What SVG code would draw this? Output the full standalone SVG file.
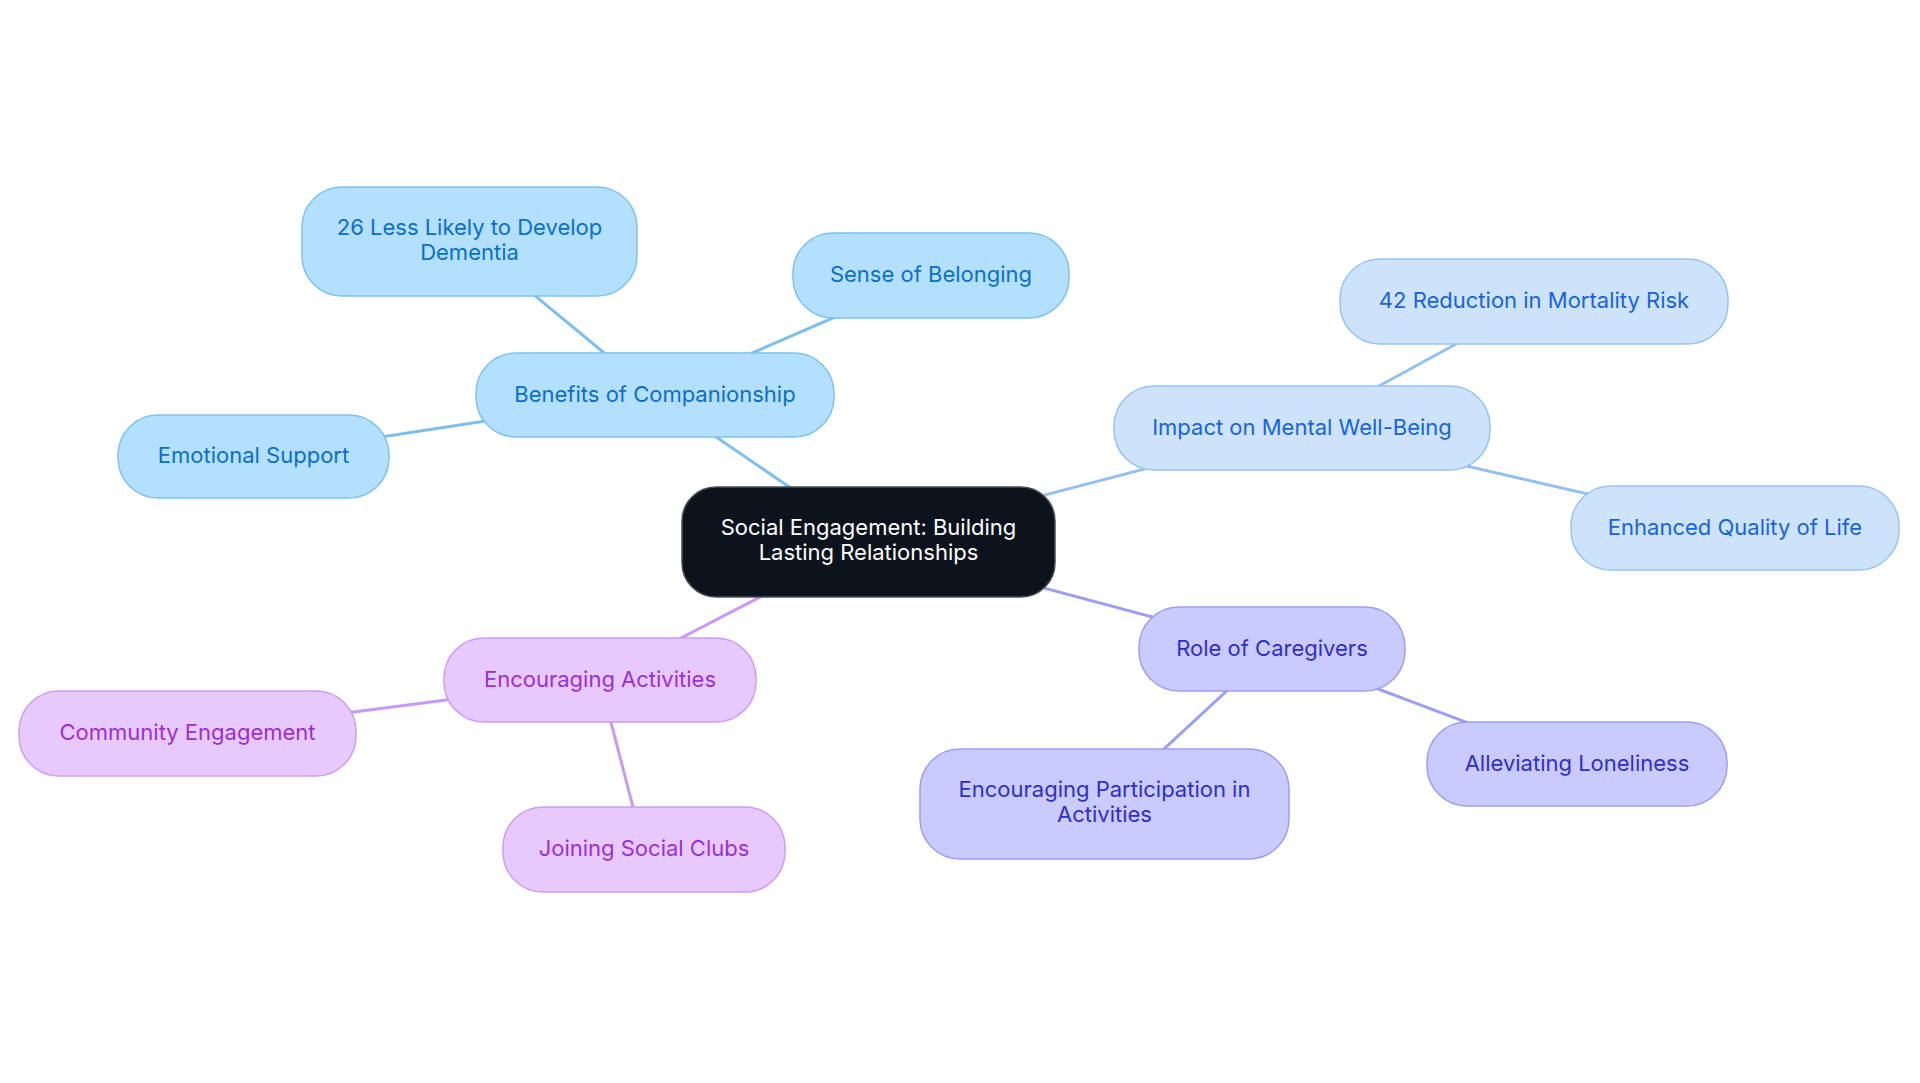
<svg xmlns="http://www.w3.org/2000/svg" width="1920" height="1083" viewBox="0 0 1920 1083">
<style>
text{font-family:Inter,"Noto Sans",sans-serif;font-size:22px;text-anchor:middle}
.edge{stroke-width:3;fill:none}
.n rect{stroke-width:1.5}
.b rect{fill:#b3e0fe;stroke:#7fc1ee}.b text{fill:#0b6fc8}.eb{stroke:#7cbfef}
.l rect{fill:#cce3fb;stroke:#98c2f2}.l text{fill:#1a63d6}.el{stroke:#93c0f3}
.v rect{fill:#c9cafd;stroke:#9d9df2}.v text{fill:#2f2fc6}.ev{stroke:#9d9df5}
.p rect{fill:#e8c9fe;stroke:#cc9cf2}.p text{fill:#9a2fd6}.ep{stroke:#c99af5}
.c rect{fill:#0d131c;stroke:#4a4f57}.c text{fill:#ffffff}
</style>
<rect width="1920" height="1083" fill="#ffffff"/>
<g id="connectors">
<line class="edge eb" x1="868" y1="541" x2="655" y2="395"/>
<line class="edge eb" x1="655" y1="395" x2="469.5" y2="241.5"/>
<line class="edge eb" x1="655" y1="395" x2="931" y2="275.5"/>
<line class="edge eb" x1="655" y1="395" x2="253.5" y2="456.5"/>
<line class="edge el" x1="868" y1="541" x2="1302" y2="428"/>
<line class="edge el" x1="1302" y1="428" x2="1534" y2="301.5"/>
<line class="edge el" x1="1302" y1="428" x2="1735" y2="528"/>
<line class="edge ev" x1="868" y1="541" x2="1272" y2="649"/>
<line class="edge ev" x1="1272" y1="649" x2="1104.5" y2="804"/>
<line class="edge ev" x1="1272" y1="649" x2="1577" y2="764"/>
<line class="edge ep" x1="868" y1="541" x2="600" y2="680"/>
<line class="edge ep" x1="600" y1="680" x2="187.5" y2="733.5"/>
<line class="edge ep" x1="600" y1="680" x2="644" y2="849.5"/>
</g>
<g id="center" class="n c"><rect x="682" y="487" width="373" height="110" rx="34"/><text x="868.5" y="535">Social Engagement: Building</text><text x="868.5" y="560">Lasting Relationships</text></g>
<g id="benefits" class="n b"><rect x="476" y="353" width="358" height="84" rx="40"/><text x="655" y="402">Benefits of Companionship</text></g>
<g id="dementia" class="n b"><rect x="302" y="187" width="335" height="109" rx="40"/><text x="469.5" y="235">26 Less Likely to Develop</text><text x="469.5" y="260">Dementia</text></g>
<g id="belonging" class="n b"><rect x="793" y="233" width="276" height="85" rx="40"/><text x="931" y="282">Sense of Belonging</text></g>
<g id="emotional" class="n b"><rect x="118" y="415" width="271" height="83" rx="40"/><text x="253.5" y="463">Emotional Support</text></g>
<g id="impact" class="n l"><rect x="1114" y="386" width="376" height="84" rx="40"/><text x="1302" y="435">Impact on Mental Well-Being</text></g>
<g id="mortality" class="n l"><rect x="1340" y="259" width="388" height="85" rx="40"/><text x="1534" y="308">42 Reduction in Mortality Risk</text></g>
<g id="quality" class="n l"><rect x="1571" y="486" width="328" height="84" rx="40"/><text x="1735" y="535">Enhanced Quality of Life</text></g>
<g id="caregivers" class="n v"><rect x="1139" y="607" width="266" height="84" rx="40"/><text x="1272" y="656">Role of Caregivers</text></g>
<g id="participation" class="n v"><rect x="920" y="749" width="369" height="110" rx="40"/><text x="1104.5" y="797">Encouraging Participation in</text><text x="1104.5" y="822">Activities</text></g>
<g id="loneliness" class="n v"><rect x="1427" y="722" width="300" height="84" rx="40"/><text x="1577" y="771">Alleviating Loneliness</text></g>
<g id="activities" class="n p"><rect x="444" y="638" width="312" height="84" rx="40"/><text x="600" y="687">Encouraging Activities</text></g>
<g id="community" class="n p"><rect x="19" y="691" width="337" height="85" rx="40"/><text x="187.5" y="740">Community Engagement</text></g>
<g id="clubs" class="n p"><rect x="503" y="807" width="282" height="85" rx="40"/><text x="644" y="856">Joining Social Clubs</text></g>
</svg>
